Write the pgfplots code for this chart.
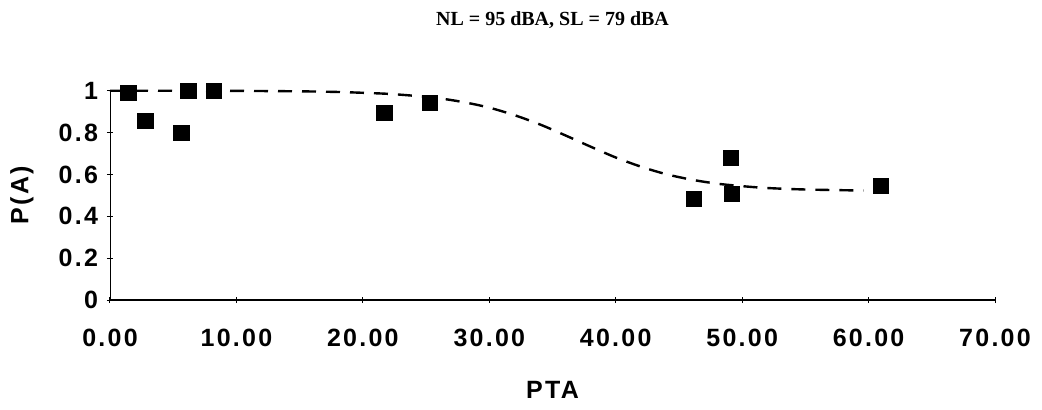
\documentclass[border=0pt]{standalone}
\usepackage{pgfplots}
\pgfplotsset{compat=1.18}
\usepackage{fontspec}
\setmainfont{Liberation Sans}
\newfontfamily\titlefont{Liberation Serif}
\newfontfamily\lsfont[LetterSpace=9]{Liberation Sans}
\begin{document}
\begin{tikzpicture}
\path[use as bounding box] (-55pt,-54.5pt) rectangle (466pt,150pt);
\begin{axis}[
  at={(0pt,0pt)}, anchor=origin,
  scale only axis,
  width=442.5pt, height=104.65pt,
  xmin=0, xmax=70, ymin=0, ymax=1,
  axis x line*=bottom, axis y line*=left,
  x axis line style={-, line width=0.9pt},
  y axis line style={-, line width=0.4pt},
  xtick={0,10,...,70}, ytick={0,0.2,...,1},
  xticklabels={0.00,10.00,20.00,30.00,40.00,50.00,60.00,70.00},
  yticklabels={0,0.2,0.4,0.6,0.8,1},
  tick align=center, major tick length=3pt,
  tick style={black, line width=0.5pt},
  /pgf/number format/assume math mode=true,
  ticklabel style={font=\fontsize{12.5}{14}\lsfont\bfseries},
  xticklabel style={yshift=-9.25pt},
  yticklabel style={xshift=-1pt},
  title={NL = 95 dBA, SL = 79 dBA},
  title style={font=\fontsize{10}{12}\titlefont\bfseries, anchor=center, at={(axis description cs:0.5,1.281)}},
  xlabel={PTA}, ylabel={P(A)},
  xlabel style={font=\fontsize{12.5}{14}\lsfont\bfseries, anchor=center, at={(axis description cs:0.5,-0.43)}},
  ylabel style={font=\fontsize{12.5}{14}\lsfont\bfseries, anchor=center, at={(axis description cs:-0.0995,0.5)}},
  clip=false,
]
\addplot[black, line width=1.2pt, dash pattern=on 7pt off 5pt, smooth] coordinates {
(0,1.0) (10,0.999) (15,0.997) (18,0.994) (20,0.990) (22,0.985) (24,0.976)
(26,0.964) (28,0.945) (30,0.919) (32,0.883) (34,0.839) (36,0.787)
(38,0.733) (40,0.681) (42,0.637) (44,0.601) (46,0.575) (48,0.556)
(50,0.544) (52,0.535) (55,0.528) (59.6,0.523)
};
\addplot[only marks, mark=square*, mark size=3.8pt, black] coordinates {
(1.46,0.99) (2.8,0.855) (5.65,0.80) (6.2,1.0) (8.2,1.0)
(21.7,0.893) (25.3,0.94) (46.2,0.483) (49.1,0.68) (49.2,0.506) (61.0,0.545)
};
\end{axis}
\end{tikzpicture}
\end{document}
